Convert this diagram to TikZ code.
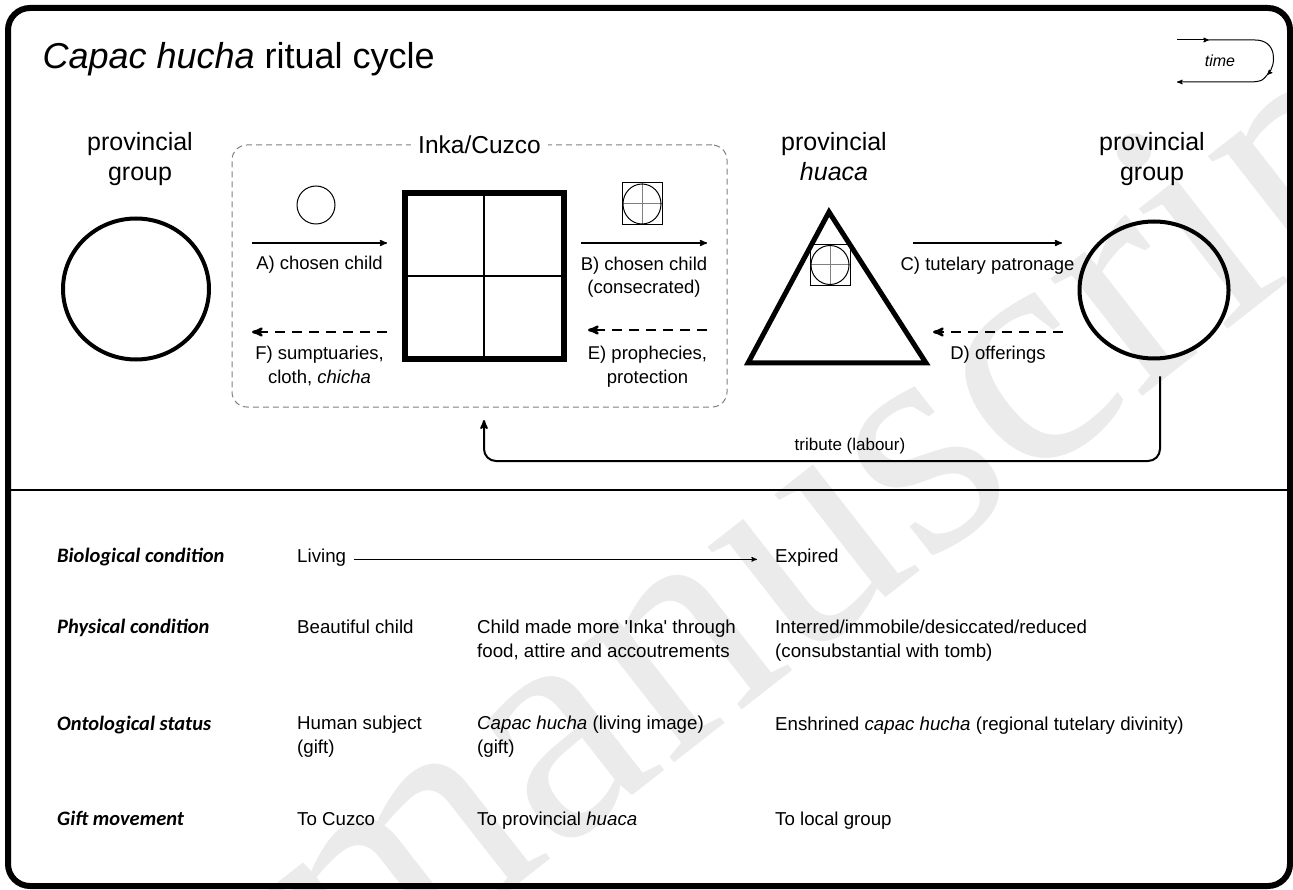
\documentclass[tikz,border=0pt]{standalone}
\usepackage{fontspec}
\setmainfont{Liberation Sans}
\newfontfamily\rowfont{Carlito}
\newfontfamily\markfont{Liberation Serif}
\usetikzlibrary{arrows,positioning,shapes.geometric}

\tikzset{
  title/.style={font=\fontsize{36}{40}\selectfont, anchor=base west},
  head/.style={font=\fontsize{25}{30}\selectfont, align=center, anchor=base},
  lbl/.style={font=\fontsize{18.5}{23.5}\selectfont, align=center},
  cell/.style={font=\fontsize{18.7}{24}\selectfont, align=left, anchor=base west, inner sep=0pt},
  rowlbl/.style={font=\rowfont\bfseries\itshape\fontsize{20.5}{24}\selectfont, anchor=base west, inner sep=0pt},
  flow/.style={->, line width=1.5pt},
  back/.style={->, line width=2.5pt, dash pattern=on 10pt off 7pt},
  grp/.style 2 args={ellipse, draw, line width=4pt, minimum width=#1, minimum height=#2},
  chsym/.style 2 args={draw, line width=1pt, inner sep=0pt, minimum width=#1, minimum height=#2,
    path picture={
      \draw[gray, line width=1pt] (path picture bounding box.north) -- (path picture bounding box.south)
        (path picture bounding box.west) -- (path picture bounding box.east);
      \draw[line width=1pt] (path picture bounding box.center) ellipse [x radius=#1/2-1, y radius=#2/2-1];}},
}

\begin{document}
\begin{tikzpicture}[x=1pt, y=-1pt, >=stealth']
	\useasboundingbox (0,0) rectangle (1293,890);
	% watermark
	\begin{scope}
		\clip (0,0) rectangle (1293,890);
		\node[rotate=38, anchor=base west, text=gray!16, inner sep=0pt,
			font=\markfont\fontsize{325}{325}\selectfont] (mark) at (355,1012) {manuscript};
	\end{scope}

	% frame
	\draw[line width=6pt, rounded corners=22] (8,8) rectangle (1290,886);
	\draw[line width=2pt] (8,490) -- (1290,490);
	\node[title] (ttl) at (39,69) {\textit{Capac hucha} ritual cycle};

	% time
	\draw[->, line width=1pt] (1177,40) -- (1209,40);
	\draw[->, line width=1pt] (1209,40) -- (1255,40) .. controls (1278,40) and (1276,66) .. (1267,75);
	\draw[->, line width=1pt] (1267,75) .. controls (1262,81) .. (1252,82) -- (1177,82);
	\node[font=\itshape\fontsize{16}{18}\selectfont] (time) at (1220,61) {time};

	% nodes
	\node[draw=gray, line width=1pt, dash pattern=on 6pt off 4pt, rounded corners=15,
		minimum width=495, minimum height=262] (inka) at (479.5,276) {};
	\node[font=\fontsize{24.5}{30}\selectfont, fill=white, inner xsep=7pt] (inkal) at (inka.north) {Inka/Cuzco};
	\node[grp={146}{141}] (lgrp) at (136,289) {};
	\node[grp={149}{137}] (rgrp) at (1154,290) {};
	\node[draw, line width=6pt, minimum width=159, minimum height=166, inner sep=0pt] (cuzco) at (484,276) {};
	\draw[line width=2pt] (cuzco.north) -- (cuzco.south) (cuzco.west) -- (cuzco.east);
	\node[circle, draw, line width=1pt, minimum size=38] (child) at (316,205) {};
	\node[chsym={40}{42}] (bsym) at (642,204) {};
	\coordinate (htop) at (829,212);
	\coordinate (hl) at (748,363);
	\coordinate (hr) at (926,363);
	\draw[line width=5pt] (htop) -- (hr) -- (hl) -- cycle;
	\node[chsym={40}{41}] (hsym) at (830,265) {};

	\node[head] (lgrpl) at (140,181) {provincial\\group};
	\node[head] (hual) at (834,181) {provincial\\\textit{huaca}};
	\node[head] (rgrpl) at (1152,181) {provincial\\group};

	% arrows
	\coordinate (A1) at (252,243);
	\coordinate (A2) at (387,243);
	\coordinate (B1) at (581,243);
	\coordinate (B2) at (707,243);
	\coordinate (C1) at (913,243);
	\coordinate (C2) at (1062,243);
	\coordinate (F1) at (387,332);
	\coordinate (F2) at (252,332);
	\coordinate (E1) at (707,330);
	\coordinate (E2) at (588,330);
	\coordinate (D1) at (1063,332);
	\coordinate (D2) at (933,332);
	\draw[flow] (A1) -- node[lbl, below=9pt] {A) chosen child} (A2);
	\draw[flow] (B1) -- node[lbl, below=10pt] {B) chosen child\\(consecrated)} (B2);
	\draw[flow] (C1) -- node[lbl, below=10pt] {C) tutelary patronage} (C2);
	\draw[back] (F1) -- node[lbl, below=10pt] {F) sumptuaries,\\cloth, \textit{chicha}} (F2);
	\draw[back] (E1) -- node[lbl, below=12pt] {E) prophecies,\\protection} (E2);
	\draw[back] (D1) -- node[lbl, below=10pt] {D) offerings} (D2);
	\draw[->, line width=2pt, rounded corners=12] ([shift={(6pt,-16pt)}]rgrp.south) |- (cuzco.south |- 0,461) -- (cuzco.south |- 0,420);
	\node[font=\fontsize{17}{20}\selectfont, anchor=base] (trib) at (850,450) {tribute (labour)};

	% table
	\node[rowlbl] (r1) at (57,562) {Biological condition};
	\node[rowlbl] (r2) at (57,633) {Physical condition};
	\node[rowlbl] (r3) at (57,730) {Ontological status};
	\node[rowlbl] (r4) at (57,825) {Gift movement};
	\node[cell] (living) at (297,562) {Living};
	\node[cell] (expired) at (775,562) {Expired};
	\draw[->, line width=1pt, shorten <=8pt, shorten >=18pt] (living.mid east) -- (expired.mid west);
	\node[cell] (p1) at (297,633) {Beautiful child};
	\node[cell] (p2) at (477,657) {Child made more \textquotesingle Inka\textquotesingle{} through\\food, attire and accoutrements};
	\node[cell] (p3) at (775,657) {Interred/immobile/desiccated/reduced\\(consubstantial with tomb)};
	\node[cell] (o1) at (297,753) {Human subject\\(gift)};
	\node[cell] (o2) at (477,753) {\textit{Capac hucha} (living image)\\(gift)};
	\node[cell] (o3) at (775,730) {Enshrined \textit{capac hucha} (regional tutelary divinity)};
	\node[cell] (g1) at (297,825) {To Cuzco};
	\node[cell] (g2) at (477,825) {To provincial \textit{huaca}};
	\node[cell] (g3) at (775,825) {To local group};
\end{tikzpicture}
\end{document}
